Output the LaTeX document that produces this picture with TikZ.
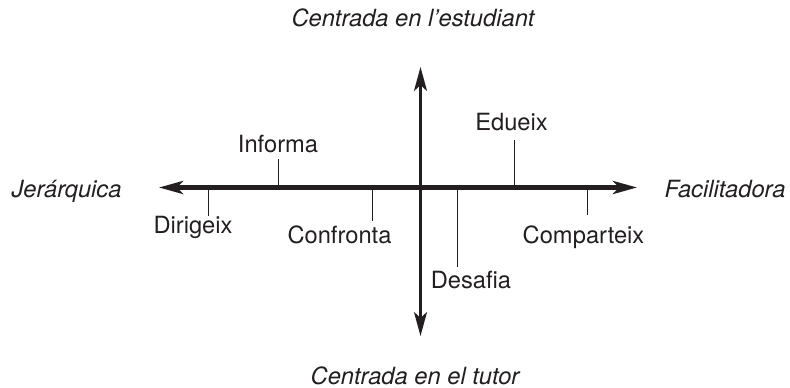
\documentclass[tikz,border=0pt]{standalone}
\usepackage{fontspec}
\setmainfont{TeX Gyre Heros}
\usetikzlibrary{arrows.meta}
\definecolor{ink}{HTML}{231F20}
\begin{document}
\begin{tikzpicture}[x=1pt,y=-1pt,
  lbl/.style={inner sep=0pt,anchor=base,text=ink,font=\fontsize{23.7}{28}\selectfont},
  axlbl/.style={lbl,font=\fontsize{23.7}{28}\selectfont\itshape},
  haxis/.style={draw=ink,line width=4.2pt,{Stealth[length=24pt,width=13pt,inset=6pt]}-{Stealth[length=24pt,width=13pt,inset=6pt]}},
  vaxis/.style={draw=ink,line width=2.8pt,{Stealth[length=24pt,width=13pt,inset=6pt]}-{Stealth[length=24pt,width=13pt,inset=6pt]}},
  tickline/.style={draw=ink,line width=1pt}]
\useasboundingbox (0,0) rectangle (790,388);
% axes
\coordinate (L) at (159,187.5);
\coordinate (R) at (637,187.5);
\coordinate (T) at (420.5,67);
\coordinate (B) at (420.5,336);
\draw[haxis] (L) -- (R);
\draw[vaxis] (B) -- (T);
% axis labels
\node[axlbl] (top) at (413,27) {Centrada en l’estudiant};
\node[axlbl] (bot) at (415,384) {Centrada en el tutor};
\node[axlbl] (left) at (66.5,197) {Jerárquica};
\node[axlbl] (right) at (725,197) {Facilitadora};
% labels
\node[lbl] (inf) at (278,152) {Informa};
\node[lbl] (edu) at (511.5,130) {Edueix};
\node[lbl] (dir) at (193,233) {Dirigeix};
\node[lbl] (con) at (339.5,243) {Confronta};
\node[lbl] (des) at (471,288) {Desafia};
\node[lbl] (com) at (583.5,243) {Comparteix};
% tick ends
\coordinate (tinf) at (278,159);
\coordinate (tedu) at (514,140);
\coordinate (tdir) at (208,216);
\coordinate (tcon) at (372,221);
\coordinate (tdes) at (457,267);
\coordinate (tcom) at (587,215);
\foreach \t in {tinf,tedu,tdir,tcon,tdes,tcom}
  \draw[tickline] (\t) -- (\t |- L);
\end{tikzpicture}
\end{document}
